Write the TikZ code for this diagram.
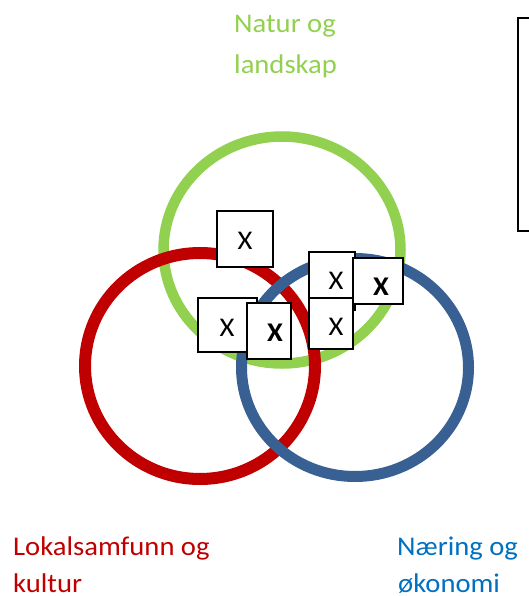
\documentclass[tikz,border=0pt]{standalone}
\usepackage{fontspec}
\setmainfont{Carlito}[FakeStretch=1.06]
\definecolor{cgreen}{RGB}{146,208,80}
\definecolor{cred}{RGB}{192,0,0}
\definecolor{cblue}{RGB}{56,96,146}
\definecolor{tblue}{RGB}{0,112,192}
\begin{document}
\begin{tikzpicture}[x=1pt,y=-1pt,
  xbox/.style={draw=black,line width=2pt,fill=white},
  lbl/.style={anchor=base west,inner sep=0pt,text depth=0pt,font=\fontsize{27}{30}\selectfont},
  xtxt/.style={inner sep=0pt,font=\fontsize{27}{30}\selectfont},
  btxt/.style={inner sep=0pt,font=\fontsize{27}{30}\selectfont\bfseries}]
\useasboundingbox (0,0) rectangle (528,596);
% circles
\draw[cgreen,line width=10.5pt] (282,250) ellipse [x radius=118.5, y radius=113.5];
\draw[cred,line width=12pt] (200,366) ellipse [x radius=115, y radius=113];
\draw[cblue,line width=11pt] (355,367.5) ellipse [x radius=113.5, y radius=109];
% frame top right
\draw[line width=2pt] (540,18) -- (517.5,18) -- (517.5,231) -- (540,231);
% boxes
\draw[xbox] (217,211) rectangle (273,267);
\node[xtxt] (t1) at (245,241) {X};
\draw[xbox] (198,298) rectangle (257,352);
\node[xtxt] (t2) at (227,328) {X};
\draw[xbox] (247,303) rectangle (291,359);
\node[btxt] (t3) at (275,333) {X};
\draw[xbox] (309,252) rectangle (355,310);
\node[xtxt] (t4) at (336,281) {X};
\draw[xbox] (309,298) rectangle (353,349);
\node[xtxt] (t6) at (336,327) {X};
\draw[xbox] (353,258) rectangle (403,304);
\node[btxt] (t5) at (381,287) {X};
% labels
\node[lbl,text=cgreen] (n1) at (234,33) {Natur og};
\node[lbl,text=cgreen] (n2) at (234,74) {landskap};
\node[lbl,text=cred] (l1) at (13,555) {Lokalsamfunn og};
\node[lbl,text=cred] (l2) at (13,592) {kultur};
\node[lbl,text=tblue] (e1) at (397,555) {Næring og};
\node[lbl,text=tblue] (e2) at (398,592) {økonomi};
\end{tikzpicture}
\end{document}
